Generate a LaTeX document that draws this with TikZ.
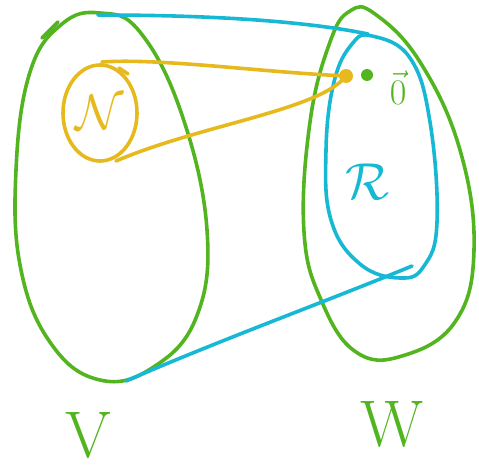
\RequirePackage{fix-cm}
\documentclass[tikz,border=0pt]{standalone}
\usepackage{amsmath}
\usetikzlibrary{positioning}
\definecolor{penGreen}{HTML}{52B51F}
\definecolor{penCyan}{HTML}{16B8D4}
\definecolor{penYellow}{HTML}{E6BA1E}

\begin{document}
\begin{tikzpicture}[x=1pt, y=-1pt,
        pen/.style={line width=3.6pt, line cap=round, line join=round},
        lbl/.style={inner sep=0pt, font=\fontsize{60}{60}\selectfont}
    ]
        \useasboundingbox (0,0) rectangle (479,471);
        % the two spaces
        \draw[pen, penGreen] plot[smooth cycle, tension=0.7] coordinates
            {(62,24) (100,13) (140,32) (182,115) (207,230) (196,318) (152,368) (100,380) (52,345) (21,270) (16,170) (30,72)};
        \draw[pen, penGreen] (42,38) -- (58,22);
        \draw[pen, penGreen] plot[smooth cycle, tension=0.7] coordinates
            {(350,11) (375,14) (420,62) (460,150) (474,250) (455,322) (402,356) (356,352) (322,302) (304,232) (310,122) (330,42)};
        % image of the map
        \draw[pen, penCyan] plot[smooth cycle, tension=0.7] coordinates
            {(372,36) (410,58) (430,122) (437,222) (424,266) (400,278) (360,264) (331,220) (326,150) (334,82) (352,44)};
        \coordinate (vtop) at (98,15);
        \coordinate (vbot) at (126,381);
        \coordinate (rtop) at (368,34);
        \coordinate (rbot) at (412,266);
        \draw[pen, penCyan] (vtop) .. controls (200,15) and (300,20) .. (rtop);
        \draw[pen, penCyan] (vbot) .. controls (220,340) and (330,300) .. (rbot);
        % kernel
        \draw[pen, penYellow] (100,113) ellipse[x radius=37, y radius=48];
        \draw[pen, penYellow] (119,68) -- (128,74);
        \coordinate (ntop) at (102,62);
        \coordinate (nbot) at (116,161);
        \coordinate (zero) at (346,76);
        \fill[penYellow] (zero) circle[radius=7];
        \draw[pen, penYellow] (ntop) .. controls (160,58) and (260,72) .. (zero);
        \draw[pen, penYellow] (nbot) .. controls (200,125) and (320,110) .. (zero);
        \fill[penGreen] (367,75) circle[radius=6];
        % labels
        \node[lbl, penYellow, font=\fontsize{50}{50}\selectfont] (kerN) at (100,112) {$\mathcal{N}$};
        \node[lbl, penCyan, font=\fontsize{52}{52}\selectfont] (imgR) at (368,182) {$\mathcal{R}$};
        \node[lbl, penGreen, font=\fontsize{36}{36}\selectfont] (zeroV) at (398,88) {$\vec{0}$};
        \node[lbl, penGreen, font=\fontsize{66}{66}\selectfont] (spV) at (88,435) {V};
        \node[lbl, penGreen, font=\fontsize{66}{66}\selectfont] (spW) at (392,424) {W};
    \end{tikzpicture}
\end{document}
